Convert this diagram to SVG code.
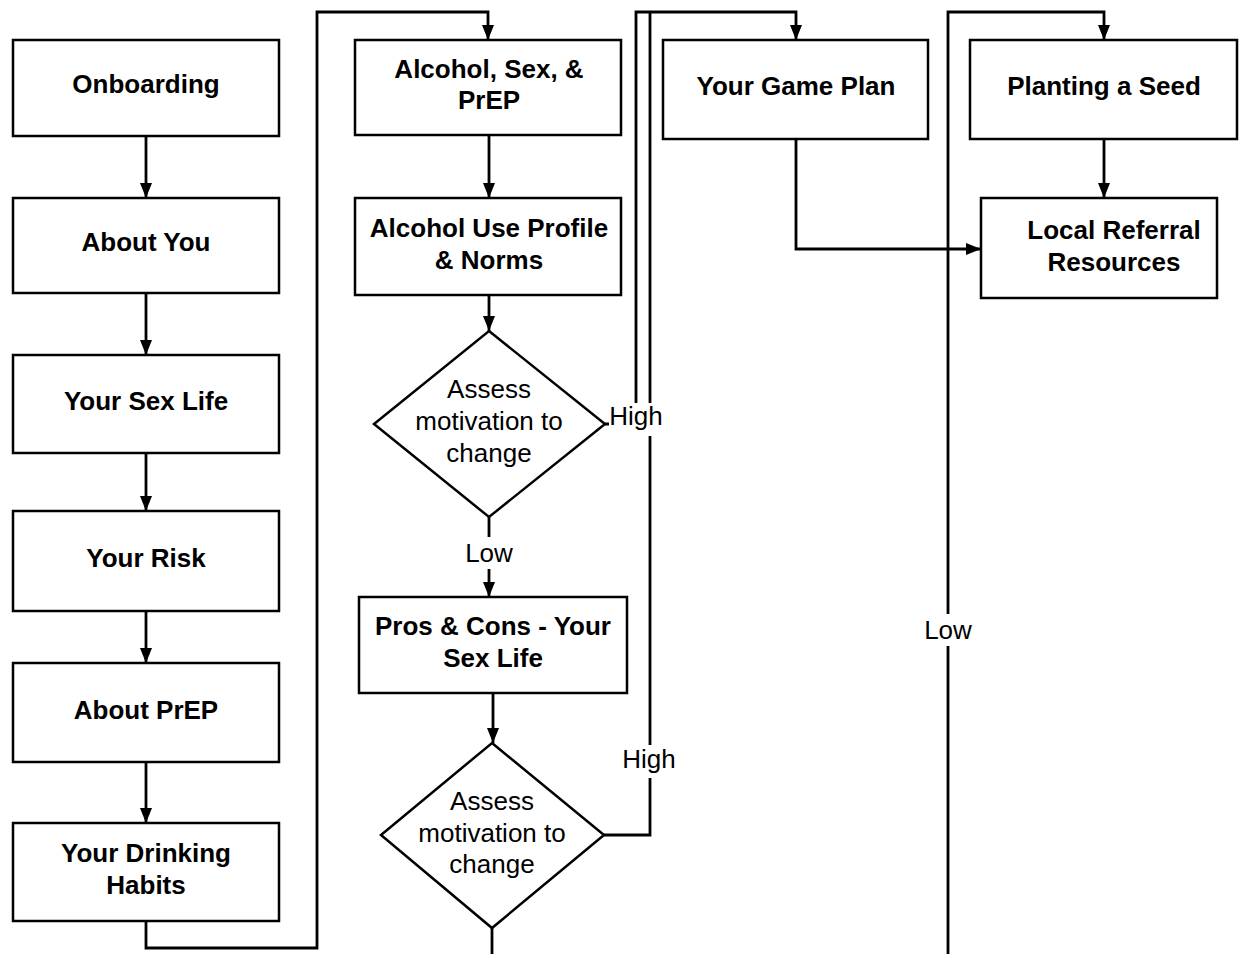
<svg xmlns="http://www.w3.org/2000/svg" width="1246" height="954" viewBox="0 0 1246 954">
<style>
.box{fill:#fff;stroke:#000;stroke-width:2.5}
.t{font-family:"Liberation Sans",Arial,sans-serif;font-size:26px;font-weight:bold;text-anchor:middle;fill:#000}
.n{font-family:"Liberation Sans",Arial,sans-serif;font-size:26px;text-anchor:middle;fill:#000}
.c{fill:none;stroke:#000;stroke-width:2.8}
.lb{fill:#fff}
</style>
<defs>
<marker id="ah" viewBox="0 0 15 12" refX="15" refY="6" markerWidth="15" markerHeight="12" markerUnits="userSpaceOnUse" orient="auto">
<path d="M0,0 L15,6 L0,12 Z" fill="#000"/>
</marker>
</defs>
<rect width="1246" height="954" fill="#fff"/>
<g id="connectors">
<path class="c" d="M146,136 V198" marker-end="url(#ah)"/>
<path class="c" d="M146,293 V355" marker-end="url(#ah)"/>
<path class="c" d="M146,453 V511" marker-end="url(#ah)"/>
<path class="c" d="M146,611 V663" marker-end="url(#ah)"/>
<path class="c" d="M146,762 V823" marker-end="url(#ah)"/>
<path class="c" d="M146,921 V948 H317 V12 H488 V40" marker-end="url(#ah)"/>
<path class="c" d="M489,135 V198" marker-end="url(#ah)"/>
<path class="c" d="M489,295 V331" marker-end="url(#ah)"/>
<path class="c" d="M489,517 V597" marker-end="url(#ah)"/>
<path class="c" d="M493,693 V743" marker-end="url(#ah)"/>
<path class="c" d="M492,928 V954"/>
<path class="c" d="M605,424 H636 V12 H796 V40" marker-end="url(#ah)"/>
<path class="c" d="M604,835 H650 V12"/>
<path class="c" d="M796,139 V249 H981" marker-end="url(#ah)"/>
<path class="c" d="M948,954 V12 H1104 V40" marker-end="url(#ah)"/>
<path class="c" d="M1104,139 V198" marker-end="url(#ah)"/>
<rect class="lb" x="609" y="403" width="54" height="33"/>
<text class="n" x="636" y="425">High</text>
<rect class="lb" x="462" y="537" width="54" height="32"/>
<text class="n" x="489" y="562">Low</text>
<rect class="lb" x="621" y="745" width="56" height="33"/>
<text class="n" x="649" y="768">High</text>
<rect class="lb" x="921" y="614" width="54" height="32"/>
<text class="n" x="948" y="639">Low</text>
</g>
<g id="onboarding"><rect class="box" x="13" y="40" width="266" height="96"/><text class="t" x="146" y="93">Onboarding</text></g>
<g id="about-you"><rect class="box" x="13" y="198" width="266" height="95"/><text class="t" x="146" y="251">About You</text></g>
<g id="your-sex-life"><rect class="box" x="13" y="355" width="266" height="98"/><text class="t" x="146" y="410">Your Sex Life</text></g>
<g id="your-risk"><rect class="box" x="13" y="511" width="266" height="100"/><text class="t" x="146" y="567">Your Risk</text></g>
<g id="about-prep"><rect class="box" x="13" y="663" width="266" height="99"/><text class="t" x="146" y="719">About PrEP</text></g>
<g id="your-drinking-habits"><rect class="box" x="13" y="823" width="266" height="98"/><text class="t" x="146" y="862">Your Drinking</text><text class="t" x="146" y="894">Habits</text></g>
<g id="alcohol-sex-prep"><rect class="box" x="355" y="40" width="266" height="95"/><text class="t" x="489" y="78">Alcohol, Sex, &amp;</text><text class="t" x="489" y="109">PrEP</text></g>
<g id="alcohol-use-profile"><rect class="box" x="355" y="198" width="266" height="97"/><text class="t" x="489" y="237">Alcohol Use Profile</text><text class="t" x="489" y="269">&amp; Norms</text></g>
<g id="assess-1"><path class="box" d="M489,331 L605,424 L489,517 L374,424 Z"/><text class="n" x="489" y="398">Assess</text><text class="n" x="489" y="430">motivation to</text><text class="n" x="489" y="462">change</text></g>
<g id="pros-cons"><rect class="box" x="359" y="597" width="268" height="96"/><text class="t" x="493" y="635">Pros &amp; Cons - Your</text><text class="t" x="493" y="667">Sex Life</text></g>
<g id="assess-2"><path class="box" d="M492,743 L604,835 L492,928 L381,835 Z"/><text class="n" x="492" y="810">Assess</text><text class="n" x="492" y="842">motivation to</text><text class="n" x="492" y="873">change</text></g>
<g id="your-game-plan"><rect class="box" x="663" y="40" width="265" height="99"/><text class="t" x="796" y="95">Your Game Plan</text></g>
<g id="planting-a-seed"><rect class="box" x="970" y="40" width="267" height="99"/><text class="t" x="1104" y="95">Planting a Seed</text></g>
<g id="local-referral"><rect class="box" x="981" y="198" width="236" height="100"/><text class="t" x="1114" y="239">Local Referral</text><text class="t" x="1114" y="271">Resources</text></g>
</svg>
